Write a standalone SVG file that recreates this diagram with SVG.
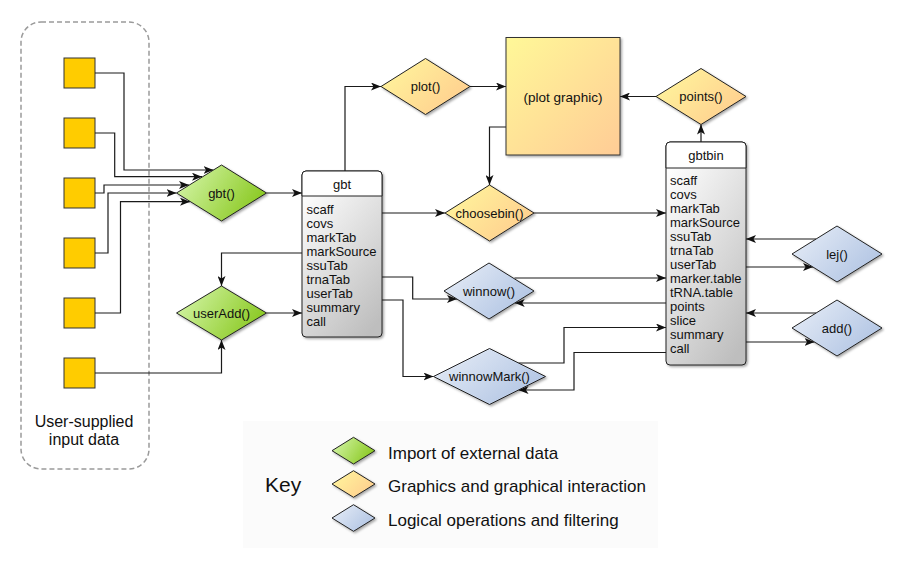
<svg xmlns="http://www.w3.org/2000/svg" width="915" height="570" viewBox="0 0 915 570">
<defs>
<style>
text{font-family:"Liberation Sans",Arial,sans-serif;fill:#111}
.lbl{font-size:13px;text-anchor:middle}
.item{font-size:13px}
.con{fill:none;stroke:#1a1a1a;stroke-width:1.2;marker-end:url(#arr)}
.dia{stroke:#222;stroke-width:1;filter:url(#sh)}
.g{fill:url(#gGreen)}
.y{fill:url(#gYellow)}
.b{fill:url(#gBlue)}
.sq{fill:#FFCC00;stroke:#333;stroke-width:1}
.box{stroke:#222;stroke-width:1}
.key{font-size:17px}
</style>
<marker id="arr" viewBox="0 0 10 8" refX="10" refY="4" markerWidth="10" markerHeight="8" markerUnits="userSpaceOnUse" orient="auto">
<path d="M0,0 L10,4 L0,8 L2.5,4 Z" fill="#111"/>
</marker>
<linearGradient id="gGreen" x1="0" y1="0.3" x2="1" y2="0.7"><stop offset="0" stop-color="#D2F4A4"/><stop offset="1" stop-color="#86C61A"/></linearGradient>
<linearGradient id="gYellow" x1="0" y1="0.2" x2="1" y2="0.8"><stop offset="0" stop-color="#FFF59C"/><stop offset="1" stop-color="#FFCC8E"/></linearGradient>
<linearGradient id="gBlue" x1="0" y1="0.2" x2="1" y2="0.8"><stop offset="0" stop-color="#E4EBF6"/><stop offset="1" stop-color="#AEC2E2"/></linearGradient>
<linearGradient id="gPlot" x1="0" y1="0" x2="1" y2="1"><stop offset="0" stop-color="#FFF898"/><stop offset="1" stop-color="#FFCC96"/></linearGradient>
<linearGradient id="gBody" x1="0.2" y1="0" x2="0.8" y2="1"><stop offset="0" stop-color="#FFFFFF"/><stop offset="1" stop-color="#BEBEBE"/></linearGradient>
<filter id="sh" x="-20%" y="-20%" width="150%" height="150%"><feDropShadow dx="1.5" dy="1.5" stdDeviation="1" flood-color="#000" flood-opacity="0.35"/></filter>
</defs>

<rect x="0" y="0" width="915" height="570" fill="#fff"/>

<!-- user supplied data group -->
<g id="userdata">
<rect x="21" y="22" width="128" height="447" rx="20" ry="20" fill="none" stroke="#9a9a9a" stroke-width="1.5" stroke-dasharray="5,3"/>
<rect class="sq" x="64" y="58" width="31" height="30"/>
<rect class="sq" x="64" y="118" width="31" height="30"/>
<rect class="sq" x="64" y="178" width="31" height="30"/>
<rect class="sq" x="64" y="238" width="31" height="30"/>
<rect class="sq" x="64" y="298" width="31" height="30"/>
<rect class="sq" x="64" y="358" width="31" height="30"/>
<text x="84" y="427" font-size="16" text-anchor="middle">User-supplied</text>
<text x="84" y="445" font-size="16" text-anchor="middle">input data</text>
</g>

<!-- key -->
<g id="key">
<rect x="243" y="421" width="415" height="127" fill="#fbfbfb"/>
<text x="265" y="492" font-size="21">Key</text>
<polygon class="dia g" points="332,450.7 353.5,437.3 375,450.7 353.5,464"/>
<polygon class="dia y" points="332,484 353.5,470.7 375,484 353.5,497.3"/>
<polygon class="dia b" points="332,518 353.5,504.7 375,518 353.5,531.3"/>
<text class="key" x="388" y="458.5">Import of external data</text>
<text class="key" x="388" y="492">Graphics and graphical interaction</text>
<text class="key" x="388" y="526">Logical operations and filtering</text>
</g>

<!-- connectors -->
<g id="connectors">
<path class="con" d="M95,73 H124 V170 H213.5"/>
<path class="con" d="M95,133 H114.7 V176.7 H202"/>
<path class="con" d="M95,193 H104 V185 H189"/>
<path class="con" d="M95,253 H108 V193 H176.5"/>
<path class="con" d="M95,313 H120.5 V201.7 H190"/>
<path class="con" d="M95,373 H221.5 V340"/>
<path class="con" d="M266.5,193 H302"/>
<path class="con" d="M302,253 H221.5 V286"/>
<path class="con" d="M266.5,313 H302"/>
<path class="con" d="M345,171 V86.5 H381"/>
<path class="con" d="M470,86.5 H506"/>
<path class="con" d="M506,127 H489.5 V185"/>
<path class="con" d="M382,213 H445"/>
<path class="con" d="M534,213 H666"/>
<path class="con" d="M701,142 V124.5"/>
<path class="con" d="M656,96.5 H620"/>
<path class="con" d="M382,277 H412.7 V299 H457"/>
<path class="con" d="M514.5,278 H666"/>
<path class="con" d="M666,303 H514.7"/>
<path class="con" d="M382,300 H403 V376.5 H433.5"/>
<path class="con" d="M518.5,363 H564 V327.5 H666"/>
<path class="con" d="M666,352.5 H574 V390 H518.5"/>
<path class="con" d="M816,239 H746"/>
<path class="con" d="M746,267 H813"/>
<path class="con" d="M816,313 H746"/>
<path class="con" d="M746,342 H814.5"/>
</g>

<!-- diamonds -->
<g id="gbt-fn"><polygon class="dia g" points="176.5,193 221.5,165 266.5,193 221.5,221"/><text class="lbl" x="221.5" y="197.5">gbt()</text></g>
<g id="userAdd"><polygon class="dia g" points="176.5,313 221.5,286 266.5,313 221.5,340"/><text class="lbl" x="221.5" y="317.5">userAdd()</text></g>
<g id="plot"><polygon class="dia y" points="381,86.5 425.5,58.5 470,86.5 425.5,114.5"/><text class="lbl" x="425.5" y="91">plot()</text></g>
<g id="choosebin"><polygon class="dia y" points="445,213 489.5,185 534,213 489.5,241"/><text class="lbl" x="489.5" y="217.5">choosebin()</text></g>
<g id="points"><polygon class="dia y" points="656,96.5 701,68.5 746,96.5 701,124.5"/><text class="lbl" x="701" y="101">points()</text></g>
<g id="winnow"><polygon class="dia b" points="444,291 489,263 534,291 489,319"/><text class="lbl" x="489" y="295.5">winnow()</text></g>
<g id="winnowMark"><polygon class="dia b" points="433.5,376.5 489.5,348.5 545.5,376.5 489.5,404.5"/><text class="lbl" x="489.5" y="381">winnowMark()</text></g>
<g id="lej"><polygon class="dia b" points="792,254 837,226 882,254 837,282"/><text class="lbl" x="837" y="258.5">lej()</text></g>
<g id="add"><polygon class="dia b" points="792,328 837,300 882,328 837,356"/><text class="lbl" x="837" y="332.5">add()</text></g>

<!-- plot graphic -->
<g id="plotgraphic">
<rect x="506" y="37.5" width="114" height="117.5" fill="url(#gPlot)" stroke="#333" stroke-width="1" filter="url(#sh)"/>
<text x="563" y="101.5" font-size="13.5" text-anchor="middle">(plot graphic)</text>
</g>

<!-- gbt object box -->
<g id="gbt">
<rect class="box" x="302" y="171" width="80" height="166" rx="4" fill="url(#gBody)" filter="url(#sh)"/>
<path d="M302,196 V175 Q302,171 306,171 H378 Q382,171 382,175 V196 Z" fill="#fff" stroke="#222" stroke-width="1"/>
<text class="lbl" x="342" y="188.5">gbt</text>
<text class="item" x="306.5" y="213.5">scaff</text>
<text class="item" x="306.5" y="227.5">covs</text>
<text class="item" x="306.5" y="241.5">markTab</text>
<text class="item" x="306.5" y="255.5">markSource</text>
<text class="item" x="306.5" y="269.5">ssuTab</text>
<text class="item" x="306.5" y="283.5">trnaTab</text>
<text class="item" x="306.5" y="297.5">userTab</text>
<text class="item" x="306.5" y="311.5">summary</text>
<text class="item" x="306.5" y="325.5">call</text>
</g>

<!-- gbtbin object box -->
<g id="gbtbin">
<rect class="box" x="666" y="142" width="80" height="223" rx="4" fill="url(#gBody)" filter="url(#sh)"/>
<path d="M666,168 V146 Q666,142 670,142 H742 Q746,142 746,146 V168 Z" fill="#fff" stroke="#222" stroke-width="1"/>
<text class="lbl" x="706" y="159.5">gbtbin</text>
<text class="item" x="670" y="185">scaff</text>
<text class="item" x="670" y="199">covs</text>
<text class="item" x="670" y="213">markTab</text>
<text class="item" x="670" y="227">markSource</text>
<text class="item" x="670" y="241">ssuTab</text>
<text class="item" x="670" y="255">trnaTab</text>
<text class="item" x="670" y="269">userTab</text>
<text class="item" x="670" y="283">marker.table</text>
<text class="item" x="670" y="297">tRNA.table</text>
<text class="item" x="670" y="311">points</text>
<text class="item" x="670" y="325">slice</text>
<text class="item" x="670" y="339">summary</text>
<text class="item" x="670" y="353">call</text>
</g>
</svg>
